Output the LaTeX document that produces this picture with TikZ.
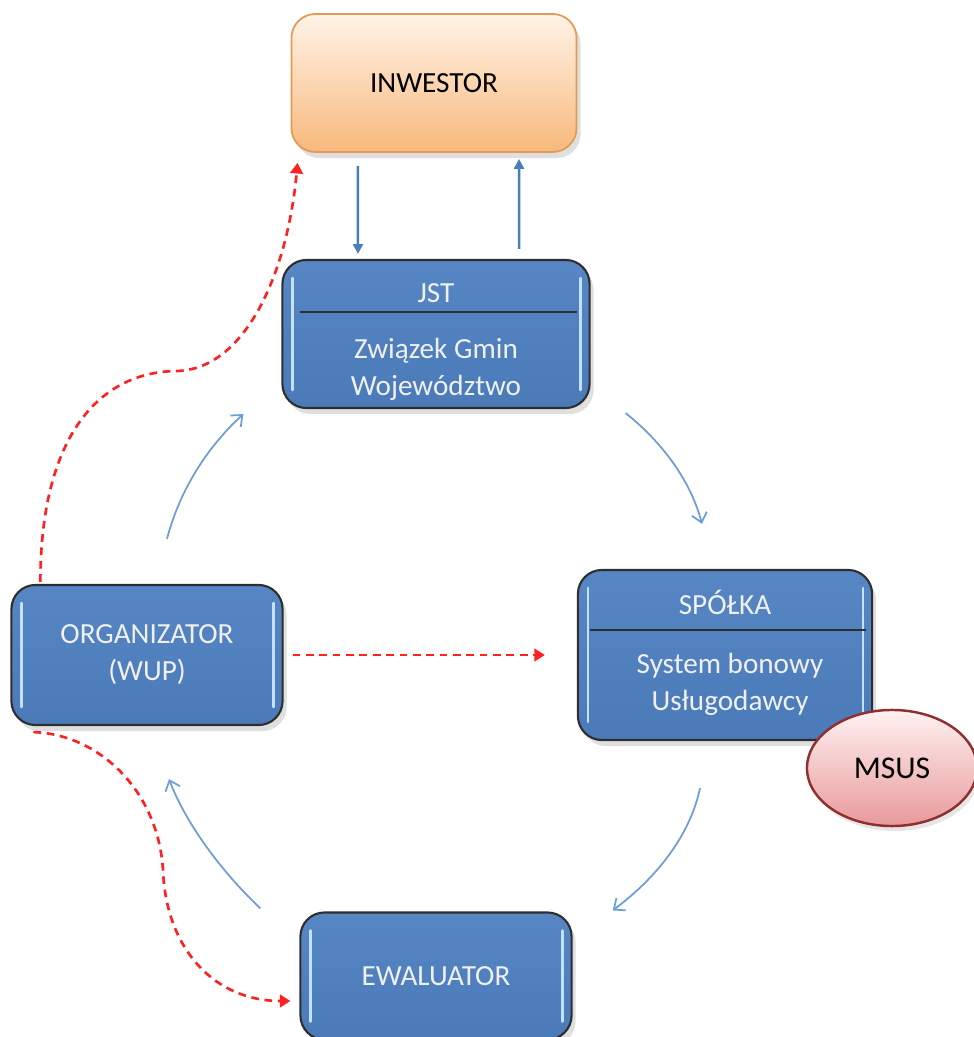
\documentclass[tikz,border=0pt]{standalone}
\usepackage{fontspec}
\setmainfont{Carlito}
\usetikzlibrary{arrows.meta,shapes.geometric,shadows}
\definecolor{boxtop}{HTML}{5687C4}
\definecolor{boxbot}{HTML}{4A7BB8}
\definecolor{boxline}{HTML}{2E2E2E}
\definecolor{hilite}{HTML}{C4E0FF}
\definecolor{invtop}{HTML}{FFF3E8}
\definecolor{invbot}{HTML}{F8B97C}
\definecolor{invline}{HTML}{E29A55}
\definecolor{msustop}{HTML}{FFF2F2}
\definecolor{msusbot}{HTML}{E8999A}
\definecolor{msusline}{HTML}{8E3030}
\definecolor{flowblue}{HTML}{4A7EBB}
\definecolor{cycleblue}{HTML}{6F9ED6}
\definecolor{dashred}{HTML}{FF2020}
\tikzset{
  boxfont/.style={font=\fontsize{8.3}{10.5}\selectfont},
  bluebox/.style={rectangle, rounded corners=2.4mm, draw=boxline, line width=0.6pt,
    top color=boxtop, bottom color=boxbot, text=white!94!black, align=center, boxfont,
    drop shadow={opacity=0.25, shadow xshift=0.4mm, shadow yshift=-0.6mm},
    path picture={
      \draw[hilite, line width=0.7pt, line cap=round]
        ([xshift=1mm,yshift=-1.8mm]path picture bounding box.north west) --
        ([xshift=1mm,yshift=1.8mm]path picture bounding box.south west);
      \draw[hilite, line width=0.7pt, line cap=round]
        ([xshift=-0.9mm,yshift=-1.8mm]path picture bounding box.north east) --
        ([xshift=-0.9mm,yshift=1.8mm]path picture bounding box.south east);}},
  invbox/.style={rectangle, rounded corners=2.4mm, draw=invline, line width=0.5pt,
    top color=invtop, bottom color=invbot, align=center, boxfont,
    drop shadow={opacity=0.25, shadow xshift=0.4mm, shadow yshift=-0.6mm}},
  msusoval/.style={ellipse, draw=msusline, line width=0.7pt, top color=msustop,
    bottom color=msusbot, font=\fontsize{9}{10.8}\selectfont,
    drop shadow={opacity=0.2, shadow xshift=0.3mm, shadow yshift=-0.5mm}},
  boxtext/.style={text=white!94!black, align=center, boxfont},
  divider/.style={line width=0.6pt, color=boxline},
  flow/.style={flowblue, line width=0.7pt, -{Triangle[width=2.8pt,length=2.8pt]}},
  cycle/.style={cycleblue, line width=0.5pt, -{Straight Barb[width=4.4pt,length=2.6pt]}},
  redflow/.style={dashred, line width=0.75pt, dash pattern=on 2.2pt off 1.6pt, -{Triangle[width=3.6pt,length=3pt]}}
}
\begin{document}
\begin{tikzpicture}[x=0.01cm, y=-0.01cm]
\useasboundingbox (0,0) rectangle (974,1037);
\node[invbox, minimum width=2.85cm, minimum height=1.38cm] (inw) at (434,83) {INWESTOR};
\node[bluebox, minimum width=3.07cm, minimum height=1.48cm] (jst) at (436,334) {};
\node[boxtext] (jsttitle) at (436,293) {JST};
\node[boxtext] (jstbody) at (436,369) {Związek Gmin\\Województwo};
\draw[divider] (300,312) -- (577,312);
\node[bluebox, minimum width=2.71cm, minimum height=1.40cm] (org) at (147,655) {ORGANIZATOR\\(WUP)};
\node[bluebox, minimum width=2.94cm, minimum height=1.70cm] (spolka) at (725,655) {};
\node[boxtext] (spolkatitle) at (725,602) {SPÓŁKA};
\node[boxtext] (spolkabody) at (730,684) {System bonowy\\Usługodawcy};
\draw[divider] (590,630) -- (866,630);
\node[msusoval, minimum width=1.70cm, minimum height=1.16cm] (msus) at (892,768) {MSUS};
\node[bluebox, minimum width=2.71cm, minimum height=1.27cm] (ewal) at (436,976) {EWALUATOR};
\draw[flow] ([xshift=-7.6mm,yshift=-1.3mm]inw.south) -- ([xshift=-7.8mm,yshift=0.5mm]jst.north);
\draw[flow] ([xshift=8.3mm,yshift=1mm]jst.north) -- ([xshift=8.5mm,yshift=-0.6mm]inw.south);
\draw[cycle] ([xshift=2mm,yshift=4.5mm]org.north) .. controls +(13,-50) and +(-35,32) .. ([xshift=-3.8mm,yshift=-0.5mm]jst.south west);
\draw[cycle] ([xshift=3.5mm,yshift=-0.4mm]jst.south east) .. controls +(35,28) and +(-12,-45) .. ([xshift=-2.3mm,yshift=4.5mm]spolka.north);
\draw[cycle] ([xshift=-2.5mm,yshift=-4.7mm]spolka.south) .. controls +(-10,48) and +(43,-32) .. ([xshift=4mm,yshift=0.1mm]ewal.north east);
\draw[cycle] ([xshift=-3.9mm,yshift=0.3mm]ewal.north west) .. controls +(-42,-40) and +(16,42) .. ([xshift=2.2mm,yshift=-5.3mm]org.south);
\draw[redflow] ([xshift=3mm,yshift=0.2mm]org.north west) .. controls +(0,-140) and +(-80,2) .. (175,371) .. controls +(70,0) and +(-10,110) .. ([xshift=0.7mm,yshift=-1mm]inw.south west);
\draw[redflow] ([xshift=0.9mm]org.east) -- ([xshift=-3.2mm]spolka.west);
\draw[redflow] ([xshift=2.3mm,yshift=-0.6mm]org.south west) .. controls +(65,2) and +(-5,-80) .. (163,870) .. controls +(3,80) and +(-75,0) .. ([xshift=-0.9mm,yshift=-2.5mm]ewal.west);
\end{tikzpicture}
\end{document}
